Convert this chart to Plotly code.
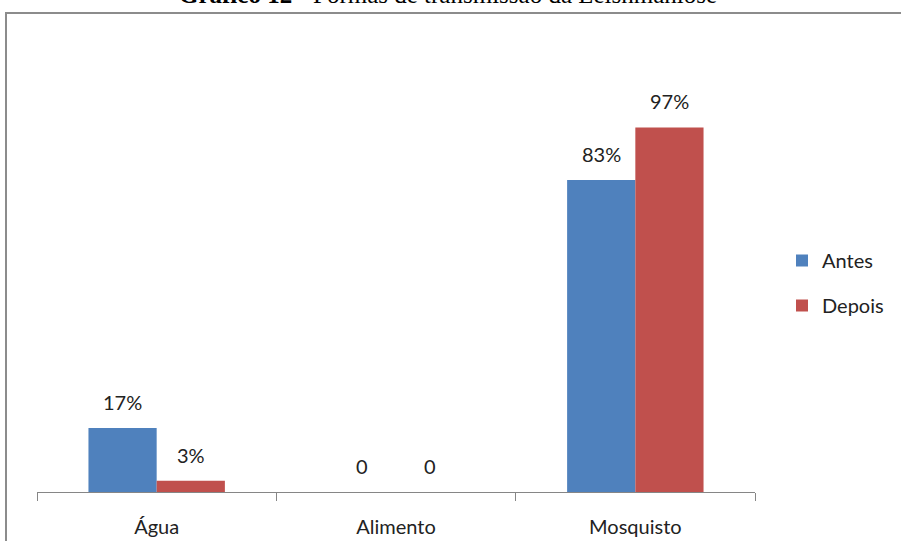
import plotly.graph_objects as go

categories = ["Água", "Alimento", "Mosquisto"]
antes = [17, 0, 83]
depois = [3, 0, 97]
series_names = ["Antes", "Depois"]

def lbl(v):
    return f"{v}%" if v else "0"

W, H = 901, 541
L, R, T, B = 37, 146, 41, 49
pw, ph = W - L - R, H - T - B

def px_x(x):
    return (x - L) / pw

def px_y(y):
    return (H - B - y) / ph

font = "Lato, 'Noto Sans', sans-serif"
fig = go.Figure()
colors = ["#4F81BD", "#C0504D"]
for name, vals, col in zip(series_names, [antes, depois], colors):
    fig.add_trace(go.Bar(name=name, x=categories, y=vals, marker_color=col,
                         marker_line_width=0, legendgroup=name))

# data labels
for i, (name, vals) in enumerate(zip(series_names, [antes, depois])):
    for j, (c, v) in enumerate(zip(categories, vals)):
        fig.add_annotation(x=j + (-0.142 if i == 0 else 0.142), y=v, xref="x", yref="y",
                           text=lbl(v), showarrow=False, yanchor="bottom", yshift=12,
                           font=dict(family=font, size=20, color="#222"))

fig.add_annotation(x=px_x(448), y=px_y(-5), xref="paper", yref="paper",
                   text="<b>Gráfico 12</b> - Formas de transmissão da Leishmaniose",
                   showarrow=False, xanchor="center", yanchor="middle",
                   font=dict(family="'Liberation Serif', serif", size=25, color="#000"))

fig.add_shape(type="rect", xref="paper", yref="paper",
              x0=px_x(6), x1=px_x(920), y0=px_y(560), y1=px_y(13),
              line=dict(color="#8c8c8c", width=2), fillcolor="rgba(0,0,0,0)", layer="below")

fig.update_layout(
    width=W, height=H, margin=dict(l=L, r=R, t=T, b=B, autoexpand=False),
    paper_bgcolor="white", plot_bgcolor="white",
    barmode="group", bargap=0.43, bargroupgap=0,
    showlegend=True,
    legend=dict(x=px_x(782), y=px_y(283), xanchor="left", yanchor="middle",
                font=dict(family=font, size=20, color="#222"), tracegroupgap=16,
                bgcolor="rgba(0,0,0,0)"),
    xaxis=dict(showline=True, linecolor="#868686", linewidth=1, ticks="outside",
               tickson="boundaries", ticklen=8, tickcolor="#868686",
               ticklabelstandoff=17, automargin=False,
               tickfont=dict(family=font, size=20, color="#222"), showgrid=False),
    yaxis=dict(range=[0, 120], visible=False, showgrid=False),
)

fig.write_html("out.html", config={"displayModeBar": False},
               post_script="document.body.style.margin='0px';")
